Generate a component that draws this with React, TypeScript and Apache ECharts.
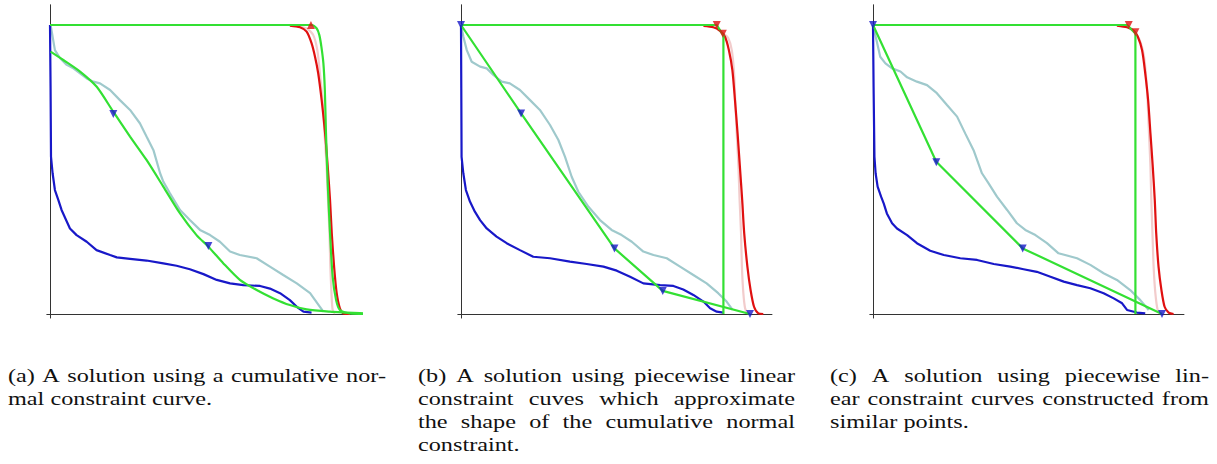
import React, { useEffect, useRef } from "react";
import * as echarts from "echarts";

// ---------- data (units: 100 = top level of the constraint / right edge of unit box) ----------
const blueA = [[0,100],[0.2,78],[0.35,54.4],[0.9,48.7],[1.7,42.9],[2.9,39.4],[4.0,36.0],[5.8,32.0],[6.9,29.6],[9.2,27.3],[12.7,25.0],[16.1,22.1],[20.8,20.4],[23.1,19.6],[27.7,19.1],[33.4,18.5],[39.2,17.5],[43.8,16.7],[48.4,15.5],[53.1,13.8],[57.7,11.8],[62.3,10.6],[66.9,10.0],[72.7,9.7],[76.1,8.8],[79.6,7.2],[83.0,4.8],[85.4,2.5],[87.7,0.8],[90.5,0.5]];
const tealA = [[0.2,100],[0.9,96.0],[1.7,91.3],[3.5,88.5],[5.8,86.2],[8.1,85.0],[10.4,83.3],[12.7,81.5],[15.0,80.4],[17.3,79.8],[20.8,77.5],[24.2,74.0],[27.7,70.6],[31.1,66.0],[33.4,61.4],[35.8,56.7],[38.1,48.7],[39.2,45.8],[41.5,41.8],[45.0,36.0],[48.4,32.5],[51.9,29.1],[55.4,27.3],[58.8,25.0],[62.3,21.6],[65.7,20.4],[71.5,19.3],[76.1,16.4],[80.7,13.5],[85.4,10.6],[90.0,7.2],[93.4,2.5],[94.6,0.8]];
const redA = [[83.0,99.8],[86.5,99.2],[88.8,97.7],[90.5,93.7],[91.7,89.0],[92.8,83.3],[94.0,74.0],[95.2,62.5],[96.1,51.0],[96.9,39.4],[97.5,27.9],[98.3,16.4],[99.2,7.2],[100.3,2.0],[101.5,0.2],[103.8,0]];
const pinkA = [[84.2,99.7],[88.8,98.8],[91.1,96.5],[92.5,91.3],[93.4,83.3],[94.3,74.0],[95.0,62.5],[95.7,51.0],[96.2,39.4],[96.7,27.9],[97.0,16.4],[97.4,7.2],[97.8,1.4],[98.6,0.2]];
const greenUpperA = [[0,100],[90.5,100],[92.3,98.8],[93.2,96.5],[93.9,92.5],[94.6,86.7],[95.1,77.5],[95.5,62.5],[96.1,45.2],[96.9,27.9],[97.8,12.9],[99.0,4.8],[100.3,1.4],[103.8,0.2],[112.5,0]];
const greenLowerA = [[0.2,90.8],[4.6,87.9],[10.4,83.9],[16.1,78.7],[21.9,70.0],[27.7,61.4],[33.4,53.3],[39.2,44.1],[45.0,34.8],[50.7,27.3],[54.8,23.3],[60.0,17.5],[65.7,11.8],[71.5,8.3],[77.3,5.4],[83.0,3.1],[88.8,1.6],[96.9,0.8],[102.7,0.5],[112.5,0]];
const blueMarksA = [[21.9,69.2],[54.8,23.5]];
const redMarksA = [[90.3,100]];

const blueB = [[0,100],[0.1,78.1],[0.2,54.4],[0.8,48.7],[1.7,42.9],[3.1,38.9],[4.8,35.4],[6.6,32.5],[8.9,29.6],[12.3,26.8],[15.8,24.5],[20.4,22.1],[25.0,19.8],[30.8,19.3],[37.7,18.1],[43.5,17.3],[49.3,16.4],[53.9,15.0],[58.5,12.9],[63.1,10.6],[68.9,10.0],[73.5,9.7],[76.9,8.5],[80.4,6.6],[83.9,4.3],[86.2,2.0],[88.5,0.8],[90.8,0.5]];
const tealB = [[0,100],[0.8,96.0],[2.0,91.3],[3.7,87.3],[6.6,85.6],[8.9,85.0],[11.2,82.7],[14.1,80.4],[16.9,79.8],[20.4,77.5],[23.9,74.0],[27.3,70.6],[30.8,65.4],[33.7,60.2],[36.0,54.4],[38.3,47.5],[40.6,42.3],[44.1,37.1],[48.1,32.5],[52.1,29.1],[55.6,27.3],[59.1,25.0],[63.1,21.6],[66.6,20.4],[71.2,19.3],[75.8,16.4],[80.4,13.5],[85.0,10.6],[89.0,7.2],[91.9,4.3],[94.0,1.4]];
const redB = [[83.9,99.7],[87.3,99.2],[89.6,98.0],[91.3,96.0],[92.7,91.3],[93.9,84.4],[94.8,74.0],[95.7,62.5],[96.5,51.0],[97.3,39.4],[98.0,27.9],[99.1,16.4],[100.2,8.3],[101.4,2.5],[102.9,0.2],[104.6,0]];
const pinkB = [[90.8,97.1],[92.5,95.4],[93.7,91.3],[94.5,83.3],[94.9,74.0],[95.4,62.5],[96.0,51.0],[96.4,39.4],[96.9,27.9],[97.2,16.4],[97.7,7.2],[98.3,2.0],[99.1,0.2]];
const greenUpperB = [[0,100],[88.5,100],[90.8,96.3],[90.8,0]];
const greenLowerB = [[0,100],[20.8,69.4],[53.1,22.7],[69.8,8.0],[100,0]];
const blueMarksB = [[0,100],[20.8,69.4],[53.1,22.7],[69.8,8.0],[100,0]];
const redMarksB = [[88.5,100],[90.6,97.0]];

const blueC = [[0,100],[0.2,78.7],[0.5,54.4],[0.9,48.7],[1.6,44.1],[2.8,40.6],[3.7,38.3],[4.8,34.8],[6.6,31.4],[8.3,29.6],[11.8,27.3],[15.2,24.5],[19.8,21.9],[24.5,20.4],[30.2,19.3],[36.0,18.7],[41.8,17.3],[47.5,16.4],[52.1,15.5],[56.7,14.6],[61.4,12.9],[66.0,11.2],[70.6,10.0],[75.2,8.9],[79.8,7.2],[83.3,5.4],[86.2,3.7],[87.9,1.4],[91.3,0.5],[94.2,0.2]];
const tealC = [[0,100],[1.2,94.8],[2.5,89.0],[4.3,86.7],[6.6,85.0],[9.5,83.9],[11.8,81.9],[15.2,80.4],[18.7,79.2],[22.1,76.4],[25.6,72.3],[29.1,68.3],[31.9,62.5],[34.8,56.7],[37.7,48.7],[40.0,45.2],[42.9,40.6],[46.4,36.0],[49.8,31.4],[52.7,29.1],[56.2,27.3],[60.2,24.5],[64.2,21.0],[70.6,19.3],[75.2,17.0],[79.8,14.1],[84.4,11.8],[89.0,8.3],[92.5,4.8],[95.4,1.4]];
const redC = [[84.4,99.8],[87.9,99.2],[90.2,98.0],[91.6,96.0],[93.1,91.3],[94.2,83.3],[95.2,74.0],[96.0,62.5],[96.8,51.0],[97.5,39.4],[98.0,27.9],[98.8,16.4],[99.8,8.3],[100.9,2.5],[102.3,0.5],[104.0,0]];
const pinkC = [[90.8,97.1],[92.3,94.8],[93.7,89.6],[94.5,82.1],[95.0,74.0],[95.5,62.5],[96.0,51.0],[96.3,39.4],[96.7,27.9],[97.1,16.4],[97.7,7.2],[98.5,1.4],[99.4,0.2]];
const greenUpperC = [[0,100],[87.9,100],[90.8,97.1],[90.8,0]];
const greenLowerC = [[0,100],[21.9,52.7],[51.8,22.7],[100,0]];
const blueMarksC = [[0,100],[21.9,52.5],[51.8,22.7],[100,0]];
const redMarksC = [[88.5,100],[90.8,97.5]];

const captionA = ["(a) A solution using a cumulative nor-", "mal constraint curve."];
const captionB = ["(b) A solution using piecewise linear", "constraint cuves which approximate", "the shape of the cumulative normal", "constraint."];
const captionC = ["(c) A solution using piecewise lin-", "ear constraint curves constructed from", "similar points."];

// ---------- layout ----------
const S = 2.89; // px per unit
const XMIN = -1.1, XMAX = 107.6, YMIN = -1.4, YMAX = 107;
const ORIGINS = [[50, 314], [461, 314], [873, 314]];
const CAPTION_X = [[8, 386], [418, 795], [830, 1209]];
const CAPTION_Y0 = 376;
const LINE_H = 23;
const FONT_SIZE = 19;
const FONT_FAMILY = '"Liberation Serif", serif';

const C_BLUE = "#1818c8";
const C_TEAL = "#9fc9cc";
const C_PINK = "#f2cccc";
const C_RED = "#e01010";
const C_GREEN = "#33e033";
const C_AXIS = "#333333";

function measure(ctx: CanvasRenderingContext2D, t: string) {
  return ctx.measureText(t).width;
}

function buildCaptions() {
  const canvas = document.createElement("canvas");
  const ctx = canvas.getContext("2d") as CanvasRenderingContext2D;
  ctx.font = `${FONT_SIZE}px ${FONT_FAMILY}`;
  // global horizontal stretch so natural line widths match the reference
  const sx = 204 / measure(ctx, "mal constraint curve.");
  const els: any[] = [];
  const caps = [captionA, captionB, captionC];
  caps.forEach((lines, ci) => {
    const [x0, x1] = CAPTION_X[ci];
    lines.forEach((line, li) => {
      const y = CAPTION_Y0 + li * LINE_H;
      const justify = li < lines.length - 1;
      const words = line.split(" ");
      const ws = words.map((w) => measure(ctx, w) * sx);
      const spaceW = measure(ctx, " ") * sx;
      let gap = spaceW;
      if (justify && words.length > 1) {
        const sum = ws.reduce((a, b) => a + b, 0);
        gap = (x1 - x0 - sum) / (words.length - 1);
      }
      let x = x0;
      words.forEach((w, wi) => {
        els.push({
          type: "text",
          x,
          y,
          scaleX: sx,
          silent: true,
          style: {
            text: w,
            font: `${FONT_SIZE}px ${FONT_FAMILY}`,
            fill: "#111",
            textAlign: "left",
            textVerticalAlign: "middle",
          },
        });
        x += ws[wi] + gap;
      });
    });
  });
  return els;
}

export default function App() {
  const ref = useRef<HTMLDivElement>(null);
  useEffect(() => {
    if (!ref.current) return;
    const chart = echarts.init(ref.current, undefined, { renderer: "svg" });
    const grids = ORIGINS.map(([ox, oy]) => ({
      left: ox + XMIN * S,
      top: oy - YMAX * S,
      width: (XMAX - XMIN) * S,
      height: (YMAX - YMIN) * S,
      containLabel: false,
    }));
    const axisCommon = {
      type: "value",
      axisLine: { show: true, onZero: true, lineStyle: { color: C_AXIS, width: 1 } },
      axisTick: { show: false },
      axisLabel: { show: false },
      splitLine: { show: false },
    };
    const xAxes = grids.map((_, i) => ({ ...axisCommon, gridIndex: i, min: XMIN, max: XMAX }));
    const yAxes = grids.map((_, i) => ({ ...axisCommon, gridIndex: i, min: YMIN, max: YMAX }));

    const line = (i: number, data: number[][], color: string, smooth = false, z = 2) => ({
      type: "line",
      xAxisIndex: i,
      yAxisIndex: i,
      data,
      symbol: "none",
      showSymbol: false,
      smooth: smooth ? 0.25 : false,
      clip: false,
      z,
      silent: true,
      lineStyle: { color, width: 2.2 },
    });
    const marks = (i: number, data: number[][], color: string, rotate: number) => ({
      type: "scatter",
      xAxisIndex: i,
      yAxisIndex: i,
      data,
      symbol: "triangle",
      symbolSize: [8, 8],
      symbolRotate: rotate,
      clip: false,
      z: 10,
      silent: true,
      itemStyle: { color },
    });

    const panels = [
      { blue: blueA, teal: tealA, red: redA, pink: pinkA, gu: greenUpperA, gl: greenLowerA, bm: blueMarksA, rm: redMarksA, smoothGreen: true, redRot: 0 },
      { blue: blueB, teal: tealB, red: redB, pink: pinkB, gu: greenUpperB, gl: greenLowerB, bm: blueMarksB, rm: redMarksB, smoothGreen: false, redRot: 180 },
      { blue: blueC, teal: tealC, red: redC, pink: pinkC, gu: greenUpperC, gl: greenLowerC, bm: blueMarksC, rm: redMarksC, smoothGreen: false, redRot: 180 },
    ];
    const series: any[] = [];
    panels.forEach((p, i) => {
      series.push(line(i, p.teal, C_TEAL, false, 2));
      series.push(line(i, p.pink, C_PINK, true, 2));
      series.push(line(i, p.blue, C_BLUE, false, 3));
      series.push(line(i, p.red, C_RED, true, 4));
      series.push(line(i, p.gu, C_GREEN, p.smoothGreen, 5));
      series.push(line(i, p.gl, C_GREEN, p.smoothGreen, 5));
      series.push(marks(i, p.rm, C_RED, p.redRot));
      series.push(marks(i, p.bm, C_BLUE, 180));
    });

    chart.setOption({
      animation: false,
      backgroundColor: "#ffffff",
      grid: grids,
      xAxis: xAxes,
      yAxis: yAxes,
      series,
      graphic: buildCaptions(),
    });
    return () => chart.dispose();
  }, []);
  return (
    <div
      ref={ref}
      style={{ position: "absolute", left: 0, top: 0, width: 1217, height: 464, background: "#fff" }}
    />
  );
}
